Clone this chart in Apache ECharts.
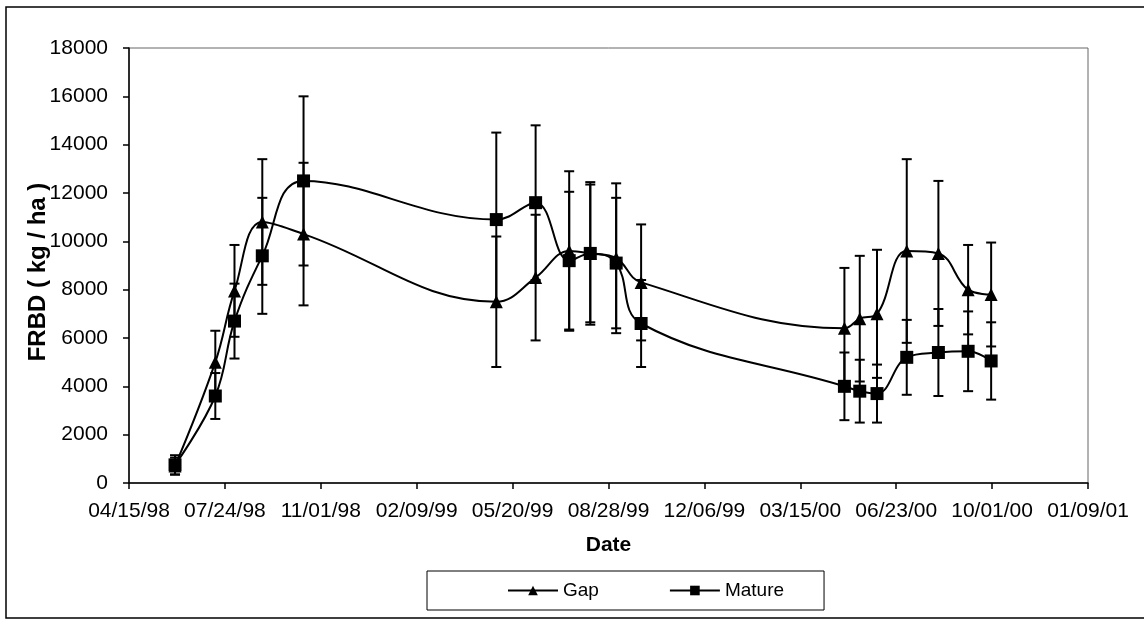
<!DOCTYPE html>
<html>
<head>
<meta charset="utf-8">
<script src="https://cdn.jsdelivr.net/npm/echarts@6/dist/echarts.min.js"></script>
<style>
  html, body { margin: 0; padding: 0; background: #fff; }
  #chart { width: 1144px; height: 628px; }
</style>
</head>
<body>
<div id="chart"></div>
<script>
// Sampling dates and fine root biomass (FRBD, kg/ha) with standard errors
const AXIS_START = '1998-04-15';
const sampleDates = ['1998-06-02', '1998-07-14', '1998-08-03', '1998-09-01', '1998-10-14',
  '1999-05-03', '1999-06-13', '1999-07-18', '1999-08-09', '1999-09-05', '1999-10-01',
  '2000-04-30', '2000-05-16', '2000-06-03', '2000-07-04', '2000-08-06', '2000-09-06', '2000-09-30'];
const gap = [700, 5000, 7950, 10800, 10300, 7500, 8500, 9600, 9500, 9300, 8300,
  6400, 6800, 7000, 9600, 9500, 8000, 7800];
const gapErr = [350, 1300, 1900, 2600, 2950, 2700, 2600, 3300, 2950, 3100, 2400,
  2500, 2600, 2650, 3800, 3000, 1850, 2150];
const mature = [750, 3600, 6700, 9400, 12500, 10900, 11600, 9200, 9500, 9100, 6600,
  4000, 3800, 3700, 5200, 5400, 5450, 5050];
const matureErr = [400, 950, 1550, 2400, 3500, 3600, 3200, 2850, 2850, 2700, 1800,
  1400, 1300, 1200, 1550, 1800, 1650, 1600];
const seriesNames = ['Gap', 'Mature'];
const yTitle = 'FRBD ( kg / ha )';
const xTitle = 'Date';

const DAY_MS = 86400000;
const startMs = Date.parse(AXIS_START);
const dayOffset = s => (Date.parse(s) - startMs) / DAY_MS;
const pad2 = n => String(n).padStart(2, '0');
const fmtDay = v => {
  const d = new Date(startMs + v * DAY_MS);
  return pad2(d.getUTCMonth() + 1) + '/' + pad2(d.getUTCDate()) + '/' + pad2(d.getUTCFullYear() % 100);
};

const xs = sampleDates.map(dayOffset);
const pts = vals => xs.map((x, i) => [x, vals[i]]);
const bars = (vals, errs) => xs.map((x, i) => [x, vals[i] - errs[i], vals[i] + errs[i]]);

const FONT = 'Arial, "Liberation Sans", sans-serif';

// vertical error bar with caps at both ends
function errorBarItem(params, api) {
  const x = api.value(0);
  const lo = api.coord([x, api.value(1)]);
  const hi = api.coord([x, api.value(2)]);
  const w = 5;
  const style = { stroke: '#000', lineWidth: 2 };
  return {
    type: 'group',
    children: [
      { type: 'line', shape: { x1: lo[0], y1: lo[1], x2: hi[0], y2: hi[1] }, style },
      { type: 'line', shape: { x1: hi[0] - w, y1: hi[1], x2: hi[0] + w, y2: hi[1] }, style },
      { type: 'line', shape: { x1: lo[0] - w, y1: lo[1], x2: lo[0] + w, y2: lo[1] }, style }
    ]
  };
}

const chart = echarts.init(document.getElementById('chart'), null, { renderer: 'canvas' });
chart.setOption({
  animation: false,
  backgroundColor: '#fff',
  textStyle: { fontFamily: FONT, color: '#000' },
  graphic: [
    {
      type: 'rect',
      shape: { x: 6, y: 7, width: 1150, height: 611 },
      style: { fill: null, stroke: '#000', lineWidth: 1.5 },
      silent: true
    },
    {
      type: 'text',
      x: 38, y: 272,
      rotation: Math.PI / 2,
      style: {
        text: yTitle, x: 0, y: 0,
        align: 'center', verticalAlign: 'middle',
        font: 'bold 24px ' + FONT, fill: '#000'
      },
      silent: true
    }
  ],
  grid: {
    left: 129, right: 56, top: 48, bottom: 145,
    show: true, borderColor: '#666', borderWidth: 1, backgroundColor: 'transparent'
  },
  legend: {
    data: seriesNames,
    left: 427, top: 571,
    padding: [10, 40, 10, 80],
    itemGap: 70,
    itemWidth: 50, itemHeight: 12,
    borderColor: '#000', borderWidth: 1,
    textStyle: { fontFamily: FONT, fontSize: 19, color: '#000' }
  },
  xAxis: {
    type: 'value',
    min: 0, max: 1000, interval: 100,
    name: xTitle, nameLocation: 'middle', nameGap: 52, nameMoveOverlap: false,
    nameTextStyle: { fontFamily: FONT, fontSize: 21, fontWeight: 'bold', color: '#000' },
    axisLine: { show: true, lineStyle: { color: '#000', width: 1.5 } },
    axisTick: { show: true, length: 6, lineStyle: { color: '#000', width: 1.5 } },
    axisLabel: { margin: 18, fontSize: 21, color: '#000', fontFamily: FONT, formatter: fmtDay },
    splitLine: { show: false }
  },
  yAxis: {
    type: 'value',
    min: 0, max: 18000, interval: 2000,
    axisLine: { show: true, lineStyle: { color: '#000', width: 1.5 } },
    axisTick: { show: true, length: 6, lineStyle: { color: '#000', width: 1.5 } },
    axisLabel: { margin: 21, fontSize: 21, color: '#000', fontFamily: FONT, formatter: v => String(v) },
    splitLine: { show: false }
  },
  series: [
    {
      name: 'Gap error', type: 'custom', renderItem: errorBarItem,
      data: bars(gap, gapErr), encode: { x: 0, y: [1, 2] }, z: 2
    },
    {
      name: 'Mature error', type: 'custom', renderItem: errorBarItem,
      data: bars(mature, matureErr), encode: { x: 0, y: [1, 2] }, z: 2
    },
    {
      name: seriesNames[0], type: 'line', data: pts(gap), smooth: 0.4,
      symbol: 'triangle', symbolSize: 13,
      lineStyle: { color: '#000', width: 2 },
      itemStyle: { color: '#000' }, z: 3
    },
    {
      name: seriesNames[1], type: 'line', data: pts(mature), smooth: 0.4,
      symbol: 'rect', symbolSize: 13,
      lineStyle: { color: '#000', width: 2 },
      itemStyle: { color: '#000' }, z: 4
    }
  ]
});
</script>
</body>
</html>
